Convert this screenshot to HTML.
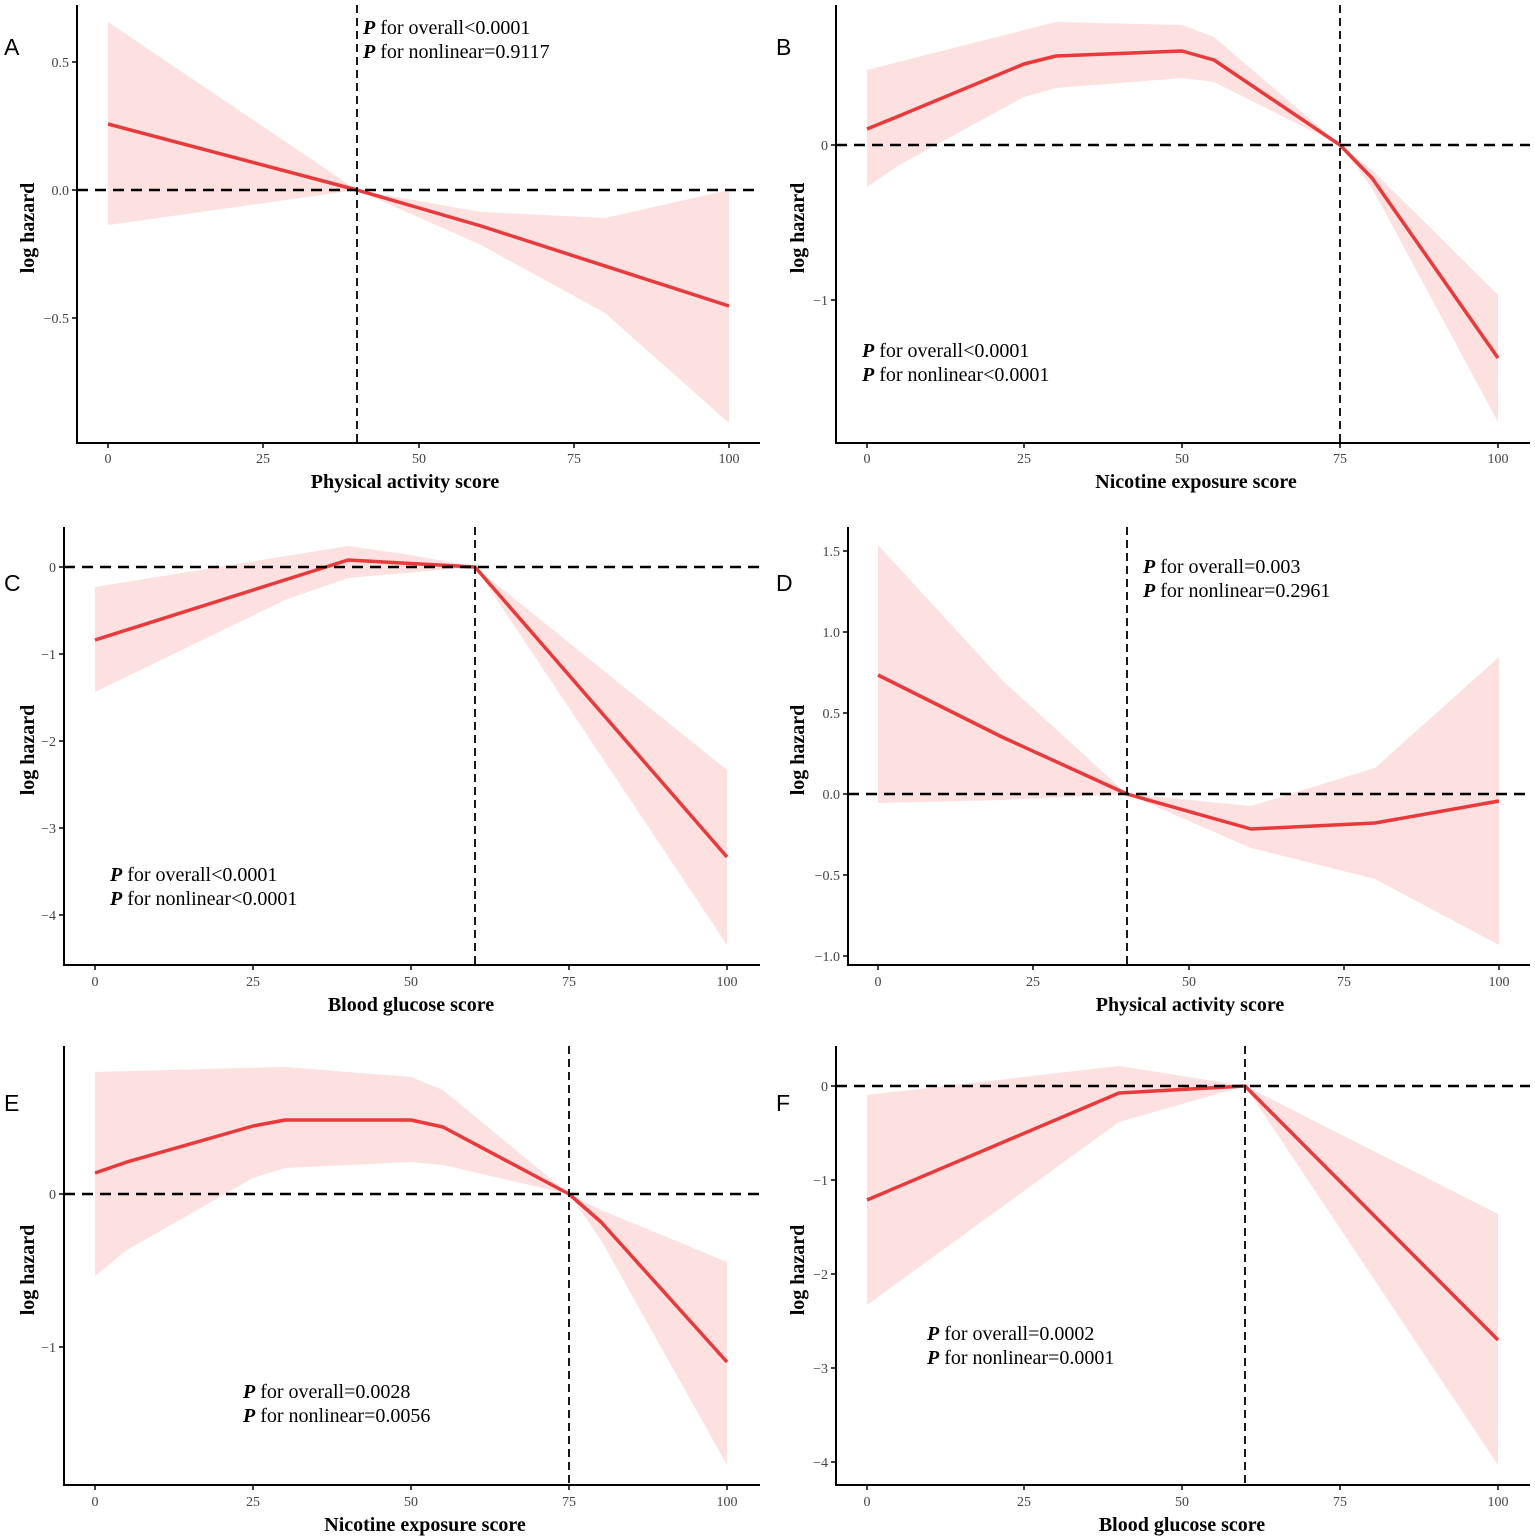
<!DOCTYPE html>
<html><head><meta charset="utf-8"><style>
html,body{margin:0;padding:0;background:#fff;}
svg{display:block;}
.t{font-family:"Liberation Serif",serif;font-size:14px;fill:#444;}
.xl{font-family:"Liberation Serif",serif;font-size:20px;font-weight:bold;fill:#000;}
.pl{font-family:"Liberation Serif",serif;font-size:20px;fill:#000;}
.lb{font-family:"Liberation Sans",sans-serif;font-size:23px;fill:#000;}
.band{fill:#fde0e0;stroke:none;}
.ln{fill:none;stroke:#e8393b;stroke-width:3.5;stroke-linejoin:round;}
.ax{stroke:#000;stroke-width:2;fill:none;}
.hd{stroke:#000;stroke-width:2.6;stroke-dasharray:11,7;}
.vd{stroke:#000;stroke-width:1.8;stroke-dasharray:8,5;}
</style></head><body>
<svg width="1535" height="1539" viewBox="0 0 1535 1539" xmlns="http://www.w3.org/2000/svg">
<!-- Panel A -->
<polygon class="band" points="108,22 357,190 481,212 605,218 729,190 729,423 605,313 481,245 357,190 108,225"/>
<polyline class="ln" points="108,124 357,190 481,226 729,306"/>
<line class="hd" x1="77" y1="190" x2="760" y2="190"/>
<line class="vd" x1="357" y1="5" x2="357" y2="443"/>
<path class="ax" d="M77,5 V443 H760"/>
<g stroke="#000" stroke-width="1.5"><line x1="72" y1="62" x2="77" y2="62"/><line x1="72" y1="190" x2="77" y2="190"/><line x1="72" y1="318" x2="77" y2="318"/>
<line x1="108" y1="443" x2="108" y2="448"/><line x1="263" y1="443" x2="263" y2="448"/><line x1="419" y1="443" x2="419" y2="448"/><line x1="574" y1="443" x2="574" y2="448"/><line x1="729" y1="443" x2="729" y2="448"/></g>
<g class="t" text-anchor="end"><text x="69" y="67">0.5</text><text x="69" y="195">0.0</text><text x="69" y="323">−0.5</text></g>
<g class="t" text-anchor="middle"><text x="108" y="463">0</text><text x="263" y="463">25</text><text x="419" y="463">50</text><text x="574" y="463">75</text><text x="729" y="463">100</text></g>
<text class="xl" x="405" y="488" text-anchor="middle">Physical activity score</text>
<text class="xl" x="0" y="0" text-anchor="middle" transform="translate(34,228) rotate(-90)">log hazard</text>
<text class="pl" x="363" y="34"><tspan font-weight="bold" font-style="italic">P</tspan> for overall&lt;0.0001</text>
<text class="pl" x="363" y="58"><tspan font-weight="bold" font-style="italic">P</tspan> for nonlinear=0.9117</text>
<text class="lb" x="4" y="55">A</text>

<!-- Panel B -->
<polygon class="band" points="867,70 1056,22 1182,25 1214,37 1340,145 1372,170 1498,295 1498,422 1372,188 1340,145 1214,82 1182,78 1056,88 1024,97 899,165 867,187"/>
<polyline class="ln" points="867,129 899,116 1024,64 1056,56 1182,51 1214,60 1340,145 1372,178 1498,358"/>
<line class="hd" x1="836" y1="145" x2="1530" y2="145"/>
<line class="vd" x1="1340" y1="5" x2="1340" y2="443"/>
<path class="ax" d="M836,5 V443 H1530"/>
<g stroke="#000" stroke-width="1.5"><line x1="831" y1="145" x2="836" y2="145"/><line x1="831" y1="300" x2="836" y2="300"/>
<line x1="867" y1="443" x2="867" y2="448"/><line x1="1024" y1="443" x2="1024" y2="448"/><line x1="1182" y1="443" x2="1182" y2="448"/><line x1="1340" y1="443" x2="1340" y2="448"/><line x1="1498" y1="443" x2="1498" y2="448"/></g>
<g class="t" text-anchor="end"><text x="828" y="150">0</text><text x="828" y="305">−1</text></g>
<g class="t" text-anchor="middle"><text x="867" y="463">0</text><text x="1024" y="463">25</text><text x="1182" y="463">50</text><text x="1340" y="463">75</text><text x="1498" y="463">100</text></g>
<text class="xl" x="1196" y="488" text-anchor="middle">Nicotine exposure score</text>
<text class="xl" x="0" y="0" text-anchor="middle" transform="translate(804,228) rotate(-90)">log hazard</text>
<text class="pl" x="862" y="357"><tspan font-weight="bold" font-style="italic">P</tspan> for overall&lt;0.0001</text>
<text class="pl" x="862" y="381"><tspan font-weight="bold" font-style="italic">P</tspan> for nonlinear&lt;0.0001</text>
<text class="lb" x="776" y="55">B</text>

<!-- Panel C -->
<polygon class="band" points="95,587 348,546 411,555 475,567 727,770 727,945 475,567 348,578 285,600 95,692"/>
<polyline class="ln" points="95,640 348,560 475,567 727,857"/>
<line class="hd" x1="64" y1="567" x2="760" y2="567"/>
<line class="vd" x1="475" y1="527" x2="475" y2="965"/>
<path class="ax" d="M64,527 V965 H760"/>
<g stroke="#000" stroke-width="1.5"><line x1="59" y1="567" x2="64" y2="567"/><line x1="59" y1="654" x2="64" y2="654"/><line x1="59" y1="741" x2="64" y2="741"/><line x1="59" y1="828" x2="64" y2="828"/><line x1="59" y1="915" x2="64" y2="915"/>
<line x1="95" y1="965" x2="95" y2="970"/><line x1="253" y1="965" x2="253" y2="970"/><line x1="411" y1="965" x2="411" y2="970"/><line x1="569" y1="965" x2="569" y2="970"/><line x1="727" y1="965" x2="727" y2="970"/></g>
<g class="t" text-anchor="end"><text x="56" y="572">0</text><text x="56" y="659">−1</text><text x="56" y="746">−2</text><text x="56" y="833">−3</text><text x="56" y="920">−4</text></g>
<g class="t" text-anchor="middle"><text x="95" y="986">0</text><text x="253" y="986">25</text><text x="411" y="986">50</text><text x="569" y="986">75</text><text x="727" y="986">100</text></g>
<text class="xl" x="411" y="1011" text-anchor="middle">Blood glucose score</text>
<text class="xl" x="0" y="0" text-anchor="middle" transform="translate(34,750) rotate(-90)">log hazard</text>
<text class="pl" x="110" y="881"><tspan font-weight="bold" font-style="italic">P</tspan> for overall&lt;0.0001</text>
<text class="pl" x="110" y="905"><tspan font-weight="bold" font-style="italic">P</tspan> for nonlinear&lt;0.0001</text>
<text class="lb" x="4" y="591">C</text>

<!-- Panel D -->
<polygon class="band" points="878,545 1002,680 1127,794 1251,806 1375,768 1499,657 1499,945 1375,879 1251,848 1127,794 1002,800 878,803"/>
<polyline class="ln" points="878,675 1002,737 1127,794 1251,829 1375,823 1499,801"/>
<line class="hd" x1="848" y1="794" x2="1530" y2="794"/>
<line class="vd" x1="1127" y1="527" x2="1127" y2="965"/>
<path class="ax" d="M848,527 V965 H1530"/>
<g stroke="#000" stroke-width="1.5"><line x1="843" y1="551" x2="848" y2="551"/><line x1="843" y1="632" x2="848" y2="632"/><line x1="843" y1="713" x2="848" y2="713"/><line x1="843" y1="794" x2="848" y2="794"/><line x1="843" y1="875" x2="848" y2="875"/><line x1="843" y1="956" x2="848" y2="956"/>
<line x1="878" y1="965" x2="878" y2="970"/><line x1="1033" y1="965" x2="1033" y2="970"/><line x1="1189" y1="965" x2="1189" y2="970"/><line x1="1344" y1="965" x2="1344" y2="970"/><line x1="1499" y1="965" x2="1499" y2="970"/></g>
<g class="t" text-anchor="end"><text x="840" y="556">1.5</text><text x="840" y="637">1.0</text><text x="840" y="718">0.5</text><text x="840" y="799">0.0</text><text x="840" y="880">−0.5</text><text x="840" y="961">−1.0</text></g>
<g class="t" text-anchor="middle"><text x="878" y="986">0</text><text x="1033" y="986">25</text><text x="1189" y="986">50</text><text x="1344" y="986">75</text><text x="1499" y="986">100</text></g>
<text class="xl" x="1190" y="1011" text-anchor="middle">Physical activity score</text>
<text class="xl" x="0" y="0" text-anchor="middle" transform="translate(804,750) rotate(-90)">log hazard</text>
<text class="pl" x="1143" y="573"><tspan font-weight="bold" font-style="italic">P</tspan> for overall=0.003</text>
<text class="pl" x="1143" y="597"><tspan font-weight="bold" font-style="italic">P</tspan> for nonlinear=0.2961</text>
<text class="lb" x="776" y="591">D</text>

<!-- Panel E -->
<polygon class="band" points="95,1072 285,1067 411,1077 443,1090 569,1194 601,1210 727,1262 727,1465 601,1240 569,1194 443,1165 411,1162 285,1168 253,1178 127,1250 95,1276"/>
<polyline class="ln" points="95,1173 127,1162 253,1126 285,1120 411,1120 443,1127 569,1194 601,1222 727,1362"/>
<line class="hd" x1="64" y1="1194" x2="760" y2="1194"/>
<line class="vd" x1="569" y1="1046" x2="569" y2="1485"/>
<path class="ax" d="M64,1046 V1485 H760"/>
<g stroke="#000" stroke-width="1.5"><line x1="59" y1="1194" x2="64" y2="1194"/><line x1="59" y1="1347" x2="64" y2="1347"/>
<line x1="95" y1="1485" x2="95" y2="1490"/><line x1="253" y1="1485" x2="253" y2="1490"/><line x1="411" y1="1485" x2="411" y2="1490"/><line x1="569" y1="1485" x2="569" y2="1490"/><line x1="727" y1="1485" x2="727" y2="1490"/></g>
<g class="t" text-anchor="end"><text x="56" y="1199">0</text><text x="56" y="1352">−1</text></g>
<g class="t" text-anchor="middle"><text x="95" y="1506">0</text><text x="253" y="1506">25</text><text x="411" y="1506">50</text><text x="569" y="1506">75</text><text x="727" y="1506">100</text></g>
<text class="xl" x="425" y="1531" text-anchor="middle">Nicotine exposure score</text>
<text class="xl" x="0" y="0" text-anchor="middle" transform="translate(34,1270) rotate(-90)">log hazard</text>
<text class="pl" x="243" y="1398"><tspan font-weight="bold" font-style="italic">P</tspan> for overall=0.0028</text>
<text class="pl" x="243" y="1422"><tspan font-weight="bold" font-style="italic">P</tspan> for nonlinear=0.0056</text>
<text class="lb" x="4" y="1111">E</text>

<!-- Panel F -->
<polygon class="band" points="867,1095 1119,1066 1245,1086 1498,1214 1498,1465 1245,1086 1119,1122 867,1305"/>
<polyline class="ln" points="867,1200 1119,1093 1245,1086 1498,1340"/>
<line class="hd" x1="836" y1="1086" x2="1530" y2="1086"/>
<line class="vd" x1="1245" y1="1046" x2="1245" y2="1485"/>
<path class="ax" d="M836,1046 V1485 H1530"/>
<g stroke="#000" stroke-width="1.5"><line x1="831" y1="1086" x2="836" y2="1086"/><line x1="831" y1="1180" x2="836" y2="1180"/><line x1="831" y1="1274" x2="836" y2="1274"/><line x1="831" y1="1368" x2="836" y2="1368"/><line x1="831" y1="1462" x2="836" y2="1462"/>
<line x1="867" y1="1485" x2="867" y2="1490"/><line x1="1024" y1="1485" x2="1024" y2="1490"/><line x1="1182" y1="1485" x2="1182" y2="1490"/><line x1="1340" y1="1485" x2="1340" y2="1490"/><line x1="1498" y1="1485" x2="1498" y2="1490"/></g>
<g class="t" text-anchor="end"><text x="828" y="1091">0</text><text x="828" y="1185">−1</text><text x="828" y="1279">−2</text><text x="828" y="1373">−3</text><text x="828" y="1467">−4</text></g>
<g class="t" text-anchor="middle"><text x="867" y="1506">0</text><text x="1024" y="1506">25</text><text x="1182" y="1506">50</text><text x="1340" y="1506">75</text><text x="1498" y="1506">100</text></g>
<text class="xl" x="1182" y="1531" text-anchor="middle">Blood glucose score</text>
<text class="xl" x="0" y="0" text-anchor="middle" transform="translate(804,1270) rotate(-90)">log hazard</text>
<text class="pl" x="927" y="1340"><tspan font-weight="bold" font-style="italic">P</tspan> for overall=0.0002</text>
<text class="pl" x="927" y="1364"><tspan font-weight="bold" font-style="italic">P</tspan> for nonlinear=0.0001</text>
<text class="lb" x="776" y="1111">F</text>
</svg>
</body></html>
